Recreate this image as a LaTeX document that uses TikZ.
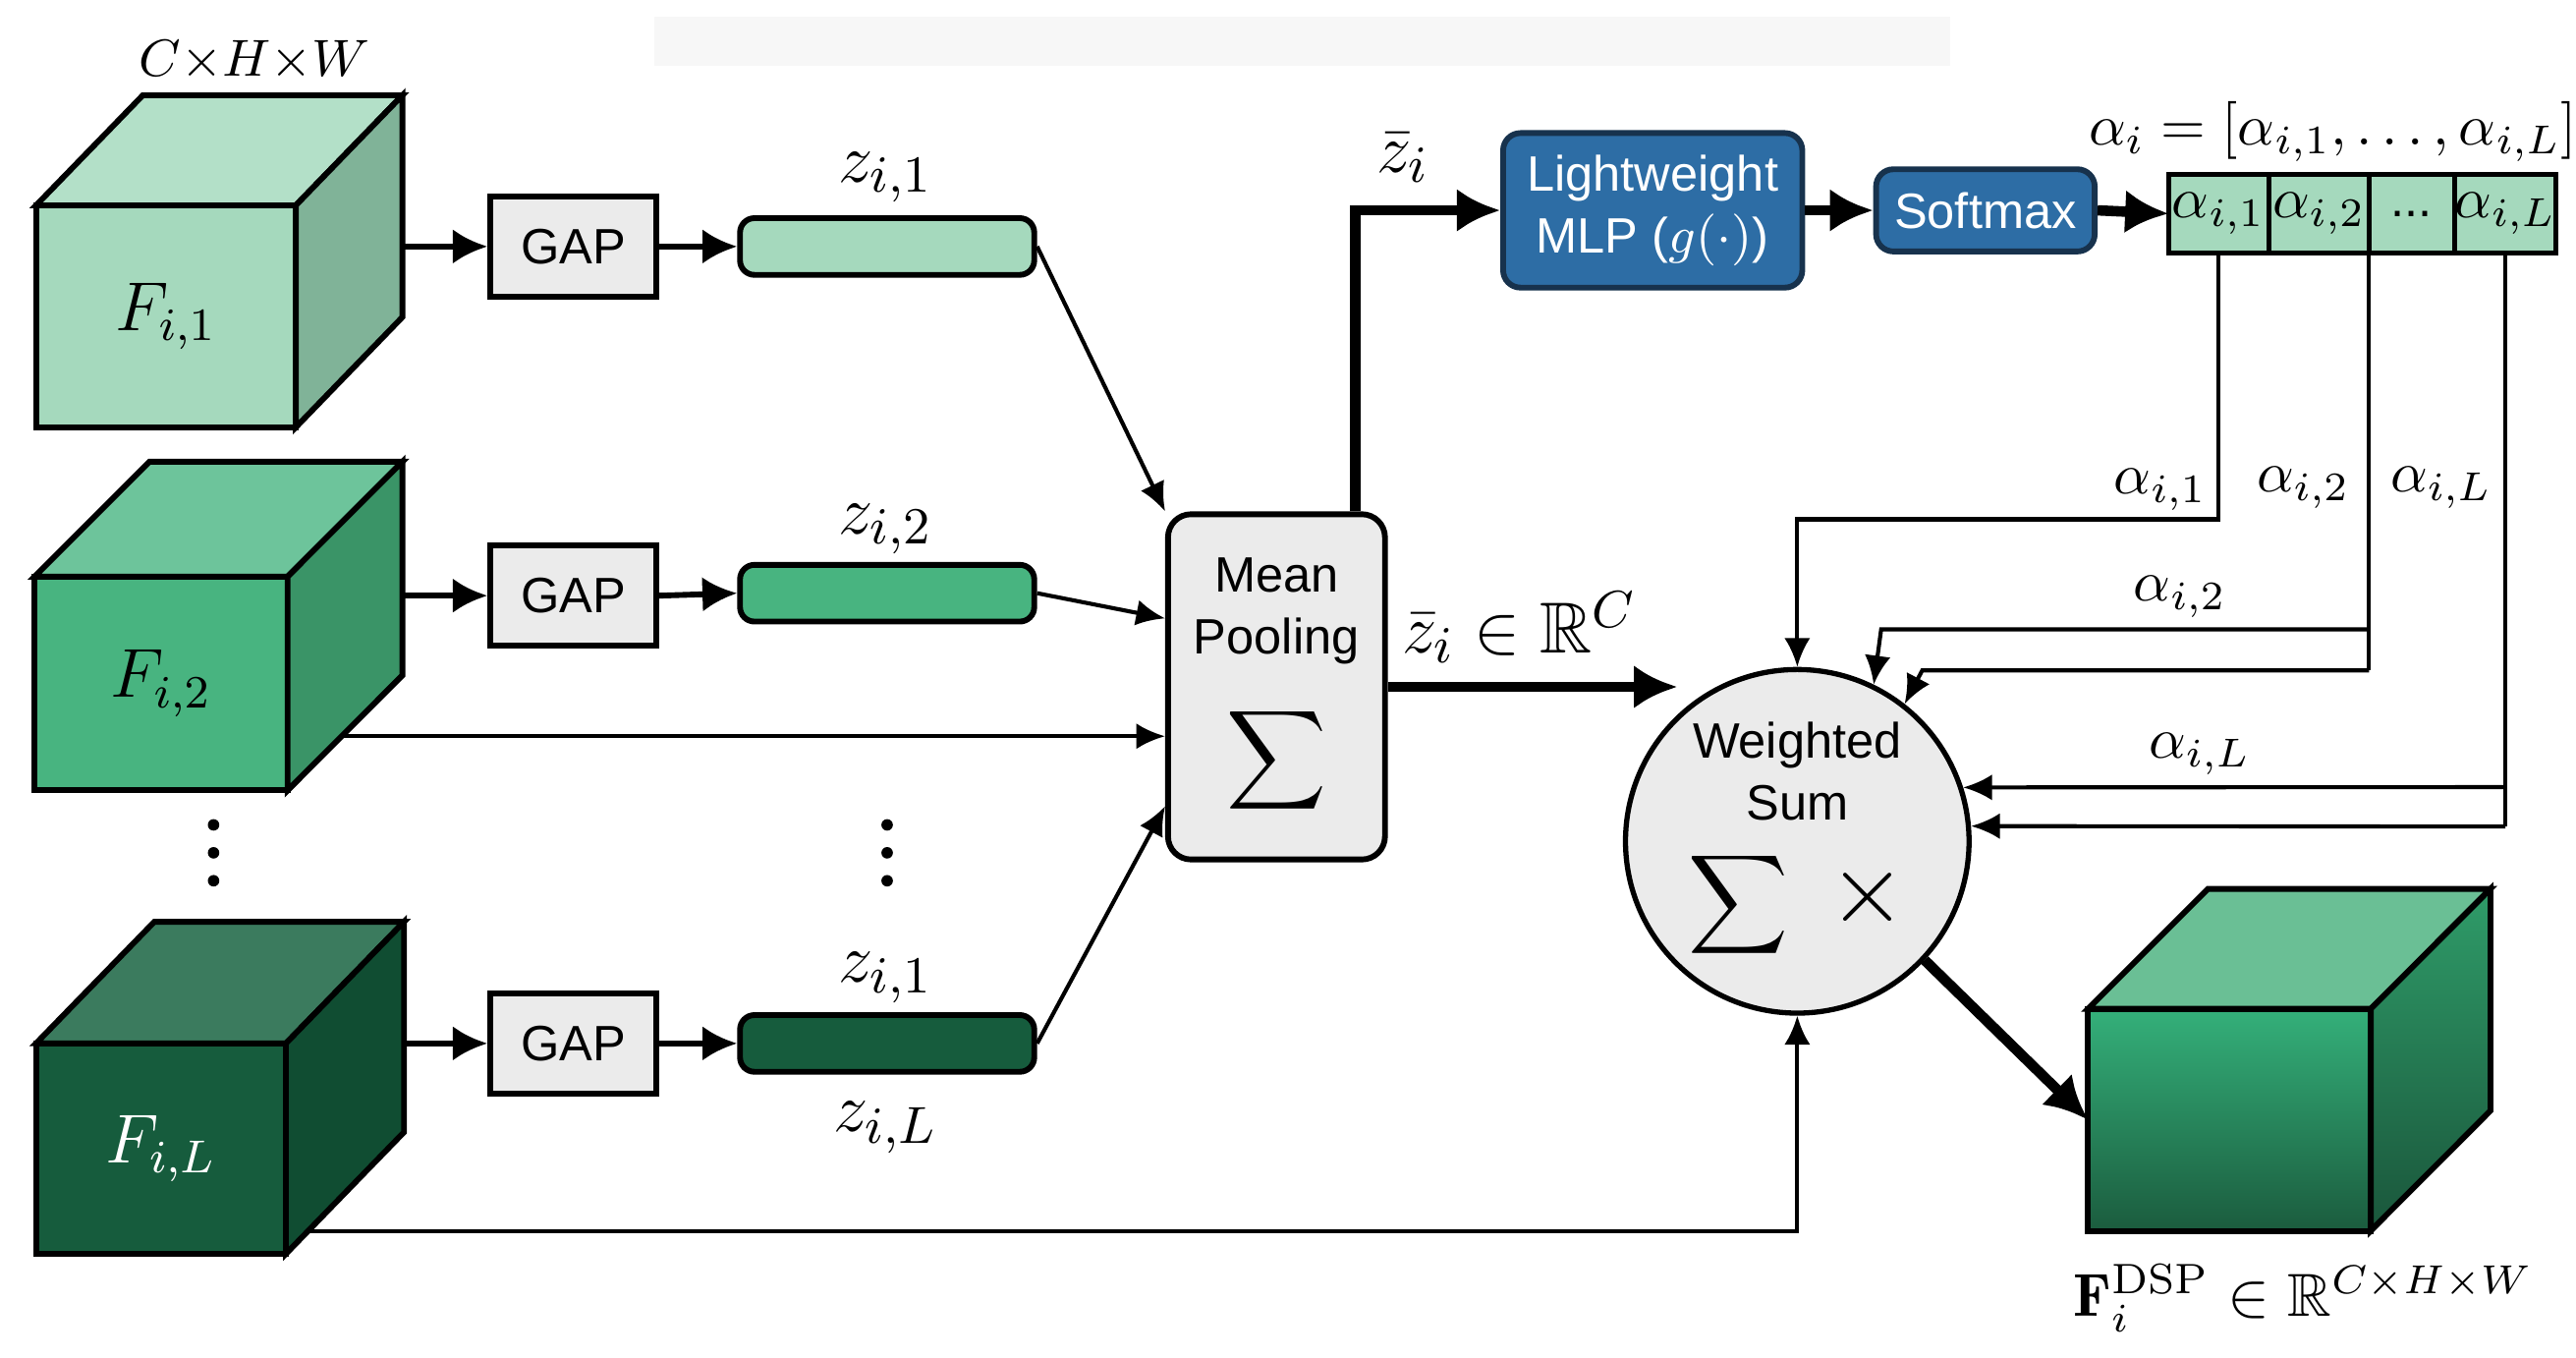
\documentclass[tikz,border=0pt]{standalone}
\usepackage{amsmath,amssymb}
\usepackage{fontspec}
\setsansfont{Liberation Sans}
\usepackage{tikz}
\usetikzlibrary{arrows.meta,positioning,calc}

\definecolor{lightgrn}{HTML}{A5D9BD}
\definecolor{lightgrntop}{HTML}{B3E0C8}
\definecolor{lightgrnside}{HTML}{80B398}
\definecolor{midgrn}{HTML}{48B480}
\definecolor{midgrntop}{HTML}{6DC49B}
\definecolor{midgrnside}{HTML}{3A9467}
\definecolor{darkgrn}{HTML}{165C3D}
\definecolor{darkgrntop}{HTML}{3B7B5E}
\definecolor{darkgrnside}{HTML}{104D32}
\definecolor{outtop}{HTML}{6ABF95}
\definecolor{outfronthi}{HTML}{34B07A}
\definecolor{outfrontlo}{HTML}{1B5C3E}
\definecolor{outsidehi}{HTML}{2F9C69}
\definecolor{outsidelo}{HTML}{1A563B}
\definecolor{boxgray}{HTML}{EBEBEB}
\definecolor{mlpblue}{HTML}{2D6DA5}
\definecolor{blueedge}{HTML}{17324D}

\begin{document}
\begin{tikzpicture}[x=0.01cm,y=-0.01cm,>=Latex,
  cubefront/.style={draw=black,line width=1pt,inner sep=0pt,outer sep=0pt,font=\fontsize{12}{12}\selectfont},
  cubeface/.style={draw=black,line width=1pt},
  gapbox/.style={draw=black,line width=1pt,fill=boxgray,minimum width=1.01cm,minimum height=0.61cm,inner sep=0pt,font=\sffamily\fontsize{8.6}{10}\selectfont},
  featbar/.style={draw=black,line width=1pt,rounded corners=2.5pt,minimum width=1.79cm,minimum height=0.345cm,inner sep=0pt},
  graybox/.style={draw=black,line width=1pt,fill=boxgray,inner sep=0pt,align=center,font=\sffamily\fontsize{8.6}{10.8}\selectfont},
  bluebox/.style={draw=blueedge,line width=1pt,fill=mlpblue,rounded corners=3pt,inner sep=0pt,align=center,text=white,font=\sffamily\fontsize{8.6}{10.8}\selectfont},
  cellbox/.style={draw=black,line width=0.9pt,fill=lightgrn,minimum height=0.48cm,inner sep=0pt,outer sep=0pt,font=\fontsize{10}{10}\selectfont},
  zlabel/.style={inner sep=0pt,font=\fontsize{12.5}{12.5}\selectfont},
  alabel/.style={inner sep=0pt,font=\fontsize{10}{10}\selectfont},
  thinline/.style={line width=0.7pt},
  thinarrow/.style={line width=0.7pt,-{Latex[length=5pt,width=4.5pt]}},
  gaparrow/.style={line width=1pt,-{Latex[length=6pt,width=6pt]}},
  thickarrow/.style={line width=1.8pt,-{Latex[length=7.5pt,width=7.5pt]}}]
\useasboundingbox (0,0) rectangle (1568,826);
\fill[black!3] (398,10) rectangle (1187,40);

% feature maps
\node[cubefront,fill=lightgrn,minimum width=1.58cm,minimum height=1.35cm] (f1) at (101,192.5) {$F_{i,1}$};
\draw[cubeface,fill=lightgrntop] (f1.north west) -- ++(65,-67) -- ++(158,0) coordinate (t1) -- (f1.north east) -- cycle;
\draw[cubeface,fill=lightgrnside] (f1.north east) -- (t1) -- ++(0,135) -- (f1.south east) -- cycle;
\node[inner sep=0pt,font=\fontsize{9.5}{9.5}\selectfont] (dims) at (155,37) {$C{\times}H{\times}W$};

\node[cubefront,fill=midgrn,minimum width=1.54cm,minimum height=1.30cm] (f2) at (98,416) {$F_{i,2}$};
\draw[cubeface,fill=midgrntop] (f2.north west) -- ++(70,-70) -- ++(154,0) coordinate (t2) -- (f2.north east) -- cycle;
\draw[cubeface,fill=midgrnside] (f2.north east) -- (t2) -- ++(0,130) -- (f2.south east) -- cycle;

\node[cubefront,fill=darkgrn,text=white,minimum width=1.52cm,minimum height=1.28cm] (fL) at (98,699) {$F_{i,L}$};
\draw[cubeface,fill=darkgrntop] (fL.north west) -- ++(72,-74) -- ++(152,0) coordinate (tL) -- (fL.north east) -- cycle;
\draw[cubeface,fill=darkgrnside] (fL.north east) -- (tL) -- ++(0,128) -- (fL.south east) -- cycle;

\foreach \y in {502,519,536} {
  \fill (130,\y) circle[radius=0.035cm];
  \fill (540,\y) circle[radius=0.035cm];
}

% GAP and pooled vectors
\node[gapbox] (gap1) at (349,150) {GAP};
\node[gapbox] (gap2) at (349,362.5) {GAP};
\node[gapbox] (gapL) at (349,635) {GAP};
\node[featbar,fill=lightgrn] (bar1) at (540,150) {};
\node[featbar,fill=midgrn] (bar2) at (540,361) {};
\node[featbar,fill=darkgrn] (barL) at (540,635) {};
\node[zlabel] (z1) at (539,108) {$z_{i,1}$};
\node[zlabel] (z2) at (539,322) {$z_{i,2}$};
\node[zlabel] (zL1) at (539,595) {$z_{i,1}$};
\node[zlabel] (zL) at (539,686) {$z_{i,L}$};

\draw[gaparrow] (t1 |- gap1.west) -- (gap1.west);
\draw[gaparrow] (t2 |- gap2.west) -- (gap2.west);
\draw[gaparrow] (tL |- gapL.west) -- (gapL.west);
\draw[gaparrow] (gap1.east) -- (bar1.west);
\draw[gaparrow] (gap2.east) -- (bar2.west);
\draw[gaparrow] (gapL.east) -- (barL.west);

% mean pooling
\node[graybox,rounded corners=4pt,minimum width=1.32cm,minimum height=2.10cm] (mp) at (777,418)
  {Mean\\Pooling\\[6pt]{\fontsize{12}{12}\selectfont$\displaystyle\sum$}};
\coordinate (c2o) at ($(f2.south east)+(33,-33)$);
\coordinate (cLo) at ($(fL.south east)+(14,-14)$);
\draw[thinarrow] (bar1.east) -- (mp.north west);
\draw[thinarrow] (bar2.east) -- ($(mp.north west)!0.305!(mp.south west)$);
\draw[thinarrow] (c2o) -- (c2o -| mp.west);
\draw[thinarrow] (barL.east) -- ($(mp.north west)!0.84!(mp.south west)$);

% attention branch
\node[bluebox,minimum width=1.82cm,minimum height=0.94cm] (mlp) at (1006,128) {Lightweight\\MLP (\(g(\cdot)\))};
\node[bluebox,minimum width=1.33cm,minimum height=0.50cm] (sm) at (1208.5,128) {Softmax};
\node[cellbox,minimum width=0.61cm] (a1) at (1350.5,130) {$\alpha_{i,1}$};
\node[cellbox,minimum width=0.61cm,right=0pt of a1] (a2) {$\alpha_{i,2}$};
\node[cellbox,minimum width=0.52cm,right=0pt of a2,font=\sffamily\fontsize{8.6}{10}\selectfont] (a3) {...};
\node[cellbox,minimum width=0.61cm,right=0pt of a3] (a4) {$\alpha_{i,L}$};
\node[inner sep=0pt,font=\fontsize{9.7}{9.7}\selectfont] (avec) at (1420,80) {$\alpha_i=[\alpha_{i,1},\ldots,\alpha_{i,L}]$};

\draw[thickarrow] ($(mp.north east)+(-20,0)$) |- (mlp.west);
\node[zlabel] (zbar) at (854,96) {$\bar{z}_i$};
\draw[thickarrow] (mlp.east) -- (sm.west);
\draw[thickarrow] (sm.east) -- (a1.west);

% weighted sum
\node[circle,draw=black,line width=0.9pt,fill=boxgray,minimum size=2.09cm,inner sep=0pt,align=center,
  font=\sffamily\fontsize{8.6}{10.8}\selectfont] (ws) at (1094,512)
  {Weighted\\Sum\\[4pt]{\fontsize{12}{12}\selectfont$\displaystyle\sum$}\hspace{7pt}{\fontsize{17}{17}\selectfont$\times$}};
\coordinate (zin) at (1021,418);
\draw[thickarrow] (mp.east) -- (zin);
\node[zlabel] (zbarC) at (925,382) {$\bar{z}_i\in\mathbb{R}^C$};

\coordinate (j2a) at ($(a2.south east)+(0,229)$);
\coordinate (j2b) at ($(a2.south east)+(0,254)$);
\coordinate (jLa) at ($(a4.south)+(0,325)$);
\coordinate (jLb) at ($(a4.south)+(0,349)$);
\draw[thinarrow] (a1.south) -- ++(0,162) -| (ws.north);
\draw[thinline] (a2.south east) -- (j2b);
\draw[thinarrow] (j2a) -- ++(-297,0) -- (ws.64);
\draw[thinarrow] (j2b) -- ++(-272,0) -- (ws.52);
\draw[thinline] (a4.south) -- (jLb);
\draw[thinarrow] (jLa) -- (ws.18);
\draw[thinarrow] (jLb) -- (ws.5);
\node[alabel] (al1) at (1315,298) {$\alpha_{i,1}$};
\node[alabel] (al2) at (1402,297) {$\alpha_{i,2}$};
\node[alabel] (alL) at (1486,297) {$\alpha_{i,L}$};
\node[alabel] (al2b) at (1327,363) {$\alpha_{i,2}$};
\node[alabel] (alLb) at (1339,459) {$\alpha_{i,L}$};

\draw[thinarrow] (cLo) -| (ws.south);

% output
\node[cubefront,top color=outfronthi,bottom color=outfrontlo,minimum width=1.72cm,minimum height=1.35cm] (out) at (1357,681.5) {};
\draw[cubeface,fill=outtop] (out.north west) -- ++(73,-73) -- ++(172,0) coordinate (to) -- (out.north east) -- cycle;
\draw[cubeface,top color=outsidehi,bottom color=outsidelo] (out.north east) -- (to) -- ++(0,135) -- (out.south east) -- cycle;
\draw[thickarrow] (ws.-43) -- (out.west);
\node[inner sep=0pt,font=\fontsize{10.5}{10.5}\selectfont] (outlbl) at (1402,790) {$\mathbf{F}_i^{\mathrm{DSP}}\in\mathbb{R}^{C{\times}H{\times}W}$};
\end{tikzpicture}
\end{document}
